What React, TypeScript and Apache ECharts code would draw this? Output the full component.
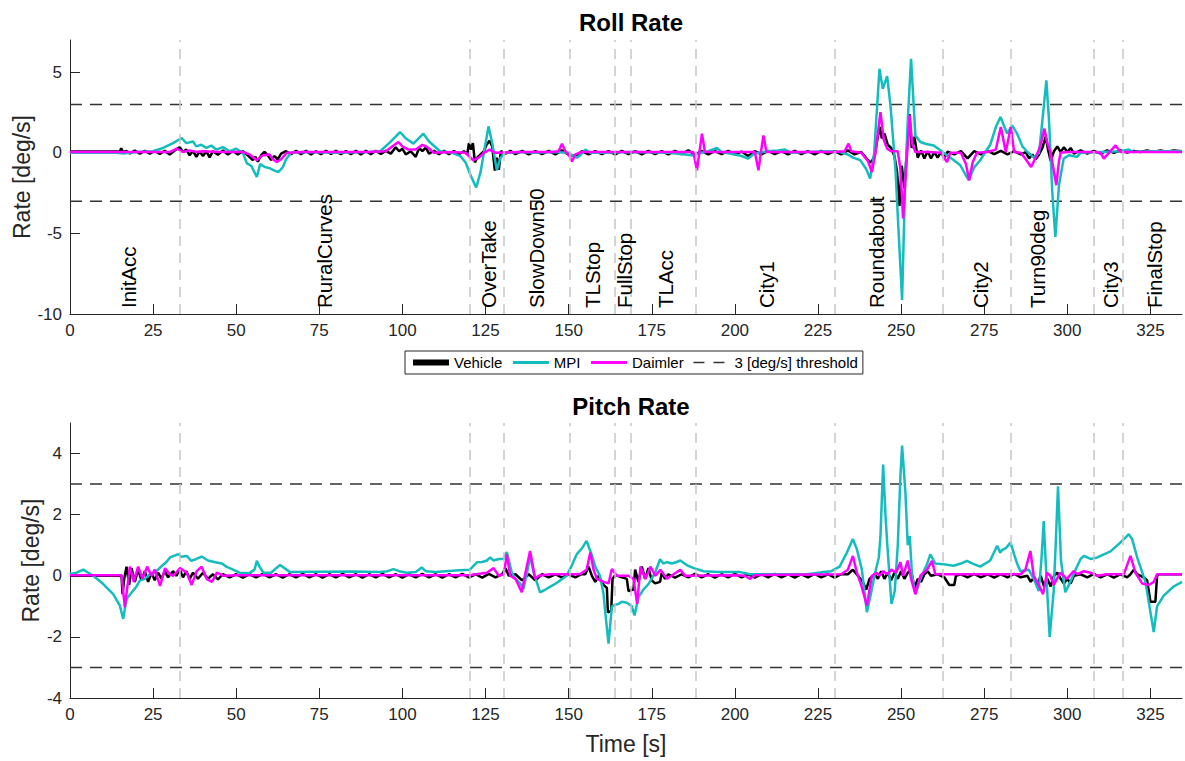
import React, { useEffect, useRef } from "react";
import * as echarts from "echarts";

const FONT = "'Liberation Sans', Arial, Helvetica, sans-serif";
const xMax = 334.5;
const xTicks = [0, 25, 50, 75, 100, 125, 150, 175, 200, 225, 250, 275, 300, 325];
const rollTicks = [-10, -5, 0, 5];
const pitchTicks = [-4, -2, 0, 2, 4];
const thresholdLevels = [3, -3];

const segmentBounds = [33.1, 120.1, 130.4, 150.3, 164, 168.7, 188.1, 230, 262.6, 283.1, 308.1, 316.8];
const segmentNames = ["InitAcc", "RuralCurves", "OverTake", "SlowDown50", "TLStop", "FullStop", "TLAcc", "City1", "Roundabout", "City2", "Turn90deg", "City3", "FinalStop"];
const segmentLabelT = [17.5, 76.7, 125.9, 140.4, 157.3, 166.8, 179, 209.6, 242.7, 273.8, 290.9, 313, 326.2];

const rollVehicle = [
  [0, 0.08], [15, 0.08], [15.4, 0.28], [16, 0.05], [17, 0.12], [18, -0.04], [19.5, 0.14], [21, -0.06], [22.5, 0.12], [24, -0.05],
  [25.5, 0.13], [27, -0.07], [28.5, 0.12], [30, -0.1], [31.5, 0.15], [33, 0.35], [34, 0.05], [35, 0.2], [36, -0.15], [37, 0.12],
  [38, -0.25], [39, 0.08], [40, -0.2], [41, 0.1], [42, -0.28], [43, 0.1], [44.5, -0.12], [46, 0.15], [47.5, -0.1], [49, 0.12],
  [50.5, -0.1], [52, 0.1], [53.5, -0.15], [55, -0.45], [55.8, -0.25], [56.5, -0.55], [57.5, -0.15], [58.5, 0.05], [59.5, -0.15], [60.5, -0.45],
  [61.5, -0.2], [62.5, -0.4], [63.5, -0.05], [65, 0.1], [66.5, -0.08], [68, 0.12], [69.5, -0.08], [71, 0.12], [72.5, -0.1], [74, 0.1],
  [75.5, -0.08], [77, 0.13], [78.5, -0.07], [80, 0.12], [81.5, -0.09], [83, 0.11], [84.5, -0.08], [86, 0.12], [87.5, -0.1], [89, 0.12],
  [90.5, -0.08], [92, 0.13], [93.5, -0.07], [95, 0.12], [96.5, -0.05], [98, 0.35], [99, 0.1], [100, 0.25], [101, -0.1], [102.5, 0.1],
  [104, -0.25], [105, 0.3], [106, 0.1], [107, 0.32], [108, -0.05], [109.5, 0.12], [111, -0.08], [112.5, 0.12], [114, -0.09], [115.5, 0.11],
  [117, -0.08], [118.5, 0.1], [119.5, -0.1], [120, 0.6], [120.6, 0.2], [121.2, 0.6], [121.8, -0.6], [122.5, -0.3], [123.5, -0.1], [124.5, 0.1],
  [125.3, 0.5], [126.2, 0.75], [127, 0.4], [127.8, -1.1], [128.4, -0.3], [129, -1.05], [129.6, 0.1], [131, -0.05], [132.5, 0.12], [134, -0.08],
  [136, 0.12], [138, -0.1], [140, 0.1], [142, -0.08], [144, 0.12], [146, -0.1], [148, 0.15], [150, -0.12], [152, -0.2], [154, 0.1],
  [156, -0.1], [158, 0.1], [160, -0.08], [162, 0.1], [164, -0.1], [166, 0.12], [168, -0.08], [170, 0.1], [172, -0.1], [174, 0.12],
  [176, -0.08], [178, 0.1], [180, -0.1], [182, 0.12], [184, -0.08], [186, 0.15], [188, -0.12], [190, 0.12], [192, -0.1], [194, 0.1],
  [196, -0.08], [198, 0.12], [200, -0.1], [202, 0.08], [204, -0.2], [206, 0.1], [208, -0.1], [210, 0.12], [212, -0.08], [214, 0.1],
  [216, -0.1], [218, 0.12], [220, -0.08], [222, 0.1], [224, -0.1], [226, 0.12], [228, -0.08], [230, 0.1], [232, -0.1], [234, 0.15],
  [236, -0.1], [238, 0.05], [239, -0.2], [240, -0.45], [241, -0.6], [242, -0.2], [243, 1.0], [243.6, 1.6], [244.2, 0.9], [245, 1.2],
  [246, 0.5], [247, 0.3], [248, -0.2], [248.8, -1.2], [249.5, -3.3], [250.2, -0.8], [251, -2.2], [251.6, -0.3], [252.5, 2.4], [253.2, 0.3],
  [254, 1.0], [255, -0.3], [256, 0.15], [257, -0.35], [258, 0.1], [259, -0.35], [260, 0.05], [261, -0.3], [262, 0.05], [263, -0.3],
  [264, 0.08], [266, -0.1], [268, 0.1], [270, -0.35], [272, 0.1], [274, -0.1], [276, 0.12], [278, -0.08], [280, 0.12], [282, -0.1],
  [284, 0.1], [286, -0.1], [287.5, 0.05], [288.5, -0.35], [289.5, -0.1], [290.5, -0.4], [291.5, -0.1], [292.5, 0.3], [293.5, 1.0], [294.2, 0.2],
  [295, -0.5], [296, 0.1], [297, 0.4], [298, 0.05], [299, 0.35], [300, 0.05], [301, 0.3], [302, -0.05], [304, 0.15], [306, -0.05],
  [308, 0.12], [310, -0.05], [312, 0.15], [314, 0.0], [316, 0.15], [318, 0.02], [320, 0.12], [322, 0.05], [324, 0.14], [326, 0.06],
  [328, 0.14], [330, 0.07], [332, 0.14], [334.5, 0.1],
];

const rollMPI = [
  [0, 0], [14, 0], [16, -0.05], [20, 0.05], [25, 0.1], [28, 0.3], [31, 0.6], [33.6, 0.92], [35, 0.6], [37, 0.7],
  [38, 0.4], [39.5, 0.5], [41, 0.3], [42.5, 0.45], [44, 0.2], [46, 0.35], [48, 0.1], [50, 0.25], [52, 0], [53.2, -0.65],
  [54.5, -0.8], [56.2, -1.5], [57.2, -0.7], [58.6, -0.88], [60, -0.95], [61.5, -1.1], [62.7, -1.19], [64, -0.9], [65, -0.4], [66.5, 0],
  [70, 0.05], [80, 0], [90, 0.05], [93.3, 0.1], [96, 0.6], [99.3, 1.29], [101, 0.9], [103.3, 0.57], [106.3, 1.19], [108, 0.7],
  [111.3, 0.1], [115, 0], [117.4, -0.2], [119, -0.6], [120.5, -1.4], [122.2, -2.15], [123.5, -1.2], [124.5, 0], [125.9, 1.64], [127, 0.6],
  [128.4, -1.08], [129.5, -0.3], [131, 0], [135, 0.05], [140, 0], [145, 0.05], [150, 0], [151, -0.15], [152.5, -0.3], [153.5, -0.15],
  [155, 0.2], [156.5, 0], [160, 0], [170, 0.05], [180, 0], [185, -0.1], [187, -0.15], [190, 0], [192, 0.1], [194.6, 0.3],
  [196, 0.05], [200, -0.1], [202, -0.2], [204, -0.35], [205.5, -0.1], [207, 0], [210, 0.1], [213, 0.15], [215, 0.2], [217, 0],
  [222, 0.05], [228, 0.1], [231.7, 0.05], [234, -0.1], [235.5, -0.3], [237.7, -0.45], [239.5, -1.0], [240.7, -1.6], [241.9, 0], [243.5, 5.21],
  [244.5, 3.97], [245.8, 4.76], [246.8, 2.94], [248.3, -1.0], [249.3, -5.1], [250.3, -9.13], [251.2, -2], [252, 2], [253, 5.83], [254.3, 1.08],
  [255.8, 0.67], [257.5, 0.55], [259.8, 0.46], [261.5, 0.2], [263.8, -0.15], [265.5, -0.4], [267.8, -0.77], [270.3, -1.7], [272, -0.9], [273.8, -0.46],
  [275.5, 0.1], [276.8, 0.5], [278.5, 1.6], [279.9, 2.22], [281.9, 1.19], [283.4, 1.7], [284.9, 1.19], [286.5, 0.4], [288, 0.05], [290, -0.3],
  [291.5, 0], [292.5, 2.0], [293.7, 4.49], [294.5, 2.0], [295.5, -2.5], [296.4, -5.21], [297.5, -2.0], [298.9, -0.36], [300.5, -0.15], [302.9, -0.25],
  [304, 0], [310, 0.05], [316, 0.1], [318.5, 0.2], [320, 0.05], [325, 0.1], [334.5, 0.1],
];

const rollDaimler = [
  [0, 0.05], [30, 0.05], [32.1, 0.26], [34, 0.05], [36, 0.15], [38, 0.05], [40, 0.1], [45, 0.05], [52, 0.05], [54, -0.1],
  [56.2, -0.46], [57, -0.3], [58, -0.15], [60, -0.1], [61, -0.4], [62.2, -0.57], [63.5, -0.4], [65.2, 0], [70, 0.05], [80, 0.05],
  [90, 0.05], [95, 0.1], [97, 0.4], [98.8, 0.67], [100, 0.4], [101.8, 0.2], [104, 0.2], [106, 0.5], [107.5, 0.35], [109.5, 0],
  [115, 0.05], [119, 0], [121.3, -0.46], [123, -0.3], [124.5, 0], [126.2, 0.2], [128, 0], [135, 0.05], [145, 0.05], [147, 0.1],
  [148, 0.57], [149, 0.1], [150, -0.1], [151, -0.53], [152, -0.1], [154, 0.05], [160, 0.05], [170, 0.05], [180, 0.05], [187.5, 0.05],
  [188.6, -1.08], [189.3, 0], [190.1, 1.19], [191, 0.05], [200, 0.05], [206, 0.05], [207.1, -1.08], [207.8, 0], [208.6, 1.08], [209.5, 0.05],
  [220, 0.05], [230, 0.05], [233, 0.1], [234.2, 0.57], [235, 0.1], [238, 0], [240, -0.5], [241.2, -1.19], [242.3, 0], [243.8, 2.53],
  [244.8, 0.8], [245.8, 0.26], [247, 0.1], [249, 0.1], [249.8, -1], [250.6, -4.07], [251.5, -1], [252.6, 2.32], [253.3, 0.6], [254.3, 0.05],
  [258, 0.05], [262, 0], [263.8, -0.57], [264.8, 0], [268, 0], [269.5, -0.7], [270.5, -1.7], [271.5, -0.6], [272.8, 0], [276, 0.05],
  [278.5, 0.2], [280, 1.6], [281.5, 0.05], [283, 1.6], [284, 0.05], [286, 0], [287.5, -0.4], [289.1, -0.88], [290.5, -0.3], [292, 0.5],
  [293.1, 1.5], [294, 0.6], [295, 0], [296, -1.2], [296.7, -2.01], [297.5, -0.5], [298, 0], [300, 0.05], [308, 0.05], [310, 0],
  [311, -0.36], [312.5, 0], [314.5, 0.46], [316, 0.05], [320, 0.05], [334.5, 0.05],
];

const pitchVehicle = [
  [0, 0], [15.5, 0], [15.8, -0.6], [16.3, -0.1], [17, 0.3], [17.8, -0.3], [18.5, 0.25], [19.5, -0.2], [20.5, 0.2], [21.5, -0.15],
  [22.5, 0.15], [23.5, -0.2], [24.5, 0.1], [25.5, -0.15], [26.5, 0.1], [27.5, -0.1], [28.5, 0.15], [29.5, -0.05], [31, 0.15], [32, 0],
  [33, 0.2], [34, -0.05], [35, 0.15], [36, -0.1], [37, 0.1], [38.5, -0.1], [40, 0.1], [41.5, -0.1], [43, 0.05], [44.5, -0.12],
  [46, 0.05], [48, -0.05], [50, 0.05], [52, -0.06], [54, 0.05], [56, -0.05], [58, 0.06], [60, -0.05], [62, 0.05], [64, -0.06],
  [66, 0.05], [68, -0.05], [70, 0.06], [72, -0.05], [74, 0.05], [76, -0.06], [78, 0.05], [80, -0.05], [82, 0.06], [84, -0.05],
  [86, 0.05], [88, -0.06], [90, 0.05], [92, -0.05], [94, 0.06], [96, -0.05], [98, 0.05], [100, -0.06], [102, 0.05], [104, -0.05],
  [106, 0.06], [108, -0.05], [110, 0.05], [112, -0.06], [114, 0.05], [116, -0.05], [118, 0.06], [120, -0.05], [122, 0.05], [124, -0.06],
  [126, 0.06], [128, -0.05], [130, 0.05], [131, 0.25], [132, 0], [134, 0.05], [136, -0.15], [138, 0.05], [140, -0.15], [142, 0.05],
  [144, -0.05], [146, 0.05], [148, -0.06], [150, 0.05], [152, -0.05], [154, 0.06], [155, 0.05], [156, 0.3], [157, 0], [158, -0.2],
  [159, 0], [160.5, -0.3], [161.5, -0.4], [161.8, -1.2], [162.8, -1.15], [163.2, -0.1], [164, 0.02], [166, -0.05], [167.5, -0.1], [168, -0.5],
  [169.5, -0.45], [170, 0.2], [171, -0.2], [172, 0.3], [173, -0.1], [174, 0.25], [175, -0.15], [176, -0.25], [177.5, -0.2], [178, 0.1],
  [179, -0.1], [180, 0.05], [182, -0.06], [184, 0.05], [186, -0.05], [188, 0.06], [190, -0.05], [192, 0.05], [194, -0.06], [196, 0.05],
  [198, -0.05], [200, 0.06], [202, -0.05], [204, 0.05], [206, -0.06], [208, 0.05], [210, -0.05], [212, 0.06], [214, -0.05], [216, 0.05],
  [218, -0.06], [220, 0.05], [222, -0.05], [224, 0.06], [226, -0.05], [228, 0.05], [230, -0.06], [232, 0.05], [234, 0.05], [235.5, 0.2],
  [237, 0], [238.5, -0.2], [239.5, -0.45], [240.5, -0.1], [242, 0.05], [243, -0.1], [244, 0.15], [245, -0.1], [246, 0.1], [247, -0.15],
  [248, 0.1], [249, -0.1], [250, 0.15], [251, -0.1], [252, 0.1], [253, 0.2], [254, -0.4], [255, -0.1], [256, -0.2], [257, 0.05],
  [258, 0.15], [259, 0], [261, 0.05], [263, -0.05], [264.5, -0.3], [266, -0.3], [266.5, 0], [268, 0.05], [270, -0.05], [272, 0.06],
  [274, -0.05], [276, 0.05], [278, -0.06], [280, 0.05], [282, -0.05], [284, 0.06], [286, -0.05], [288, 0], [289, -0.2], [290, -0.05],
  [291, -0.3], [292, 0], [293, -0.35], [294, -0.1], [295, -0.35], [296, 0], [297, 0.1], [298, -0.1], [299, -0.25], [300, -0.1],
  [301, -0.25], [302, 0], [304, 0.05], [306, -0.05], [308, 0.06], [310, -0.05], [312, 0.05], [314, -0.06], [316, 0.05], [318, -0.05],
  [319, 0.05], [320, 0.2], [321, 0.05], [323, -0.05], [324, -0.15], [325, -0.85], [326.5, -0.85], [327, 0], [327.5, 0.05], [334.5, 0.05],
];

const pitchMPI = [
  [0, 0.05], [2, 0.1], [4, 0.2], [5.5, 0.1], [7, 0], [10, -0.27], [13, -0.6], [15, -0.98], [16, -1.41], [17, -0.76],
  [18.6, -0.54], [20, -0.35], [21, -0.16], [22.5, -0.1], [24, 0.05], [25.5, 0.1], [27.1, 0.27], [29, 0.45], [30.1, 0.6], [32.6, 0.71],
  [33.5, 0.62], [35.1, 0.65], [36.5, 0.49], [38, 0.55], [39.6, 0.63], [41.5, 0.5], [43.7, 0.44], [45.7, 0.4], [47, 0.3], [48.7, 0.22],
  [51, 0.1], [53.8, 0.08], [55.5, 0.2], [56.2, 0.49], [57, 0.3], [58.2, 0.1], [60.5, 0.1], [62, 0.25], [63.2, 0.35], [64.5, 0.25],
  [66.2, 0.12], [75, 0.13], [85, 0.14], [93.3, 0.12], [95.5, 0.15], [97.3, 0.22], [99, 0.15], [101.3, 0.1], [104, 0.12], [105.8, 0.27],
  [107, 0.15], [110, 0.12], [113, 0.15], [117, 0.18], [120.3, 0.2], [122.4, 0.44], [124, 0.45], [125.4, 0.5], [126.4, 0.6], [127.4, 0.5],
  [129, 0.55], [130.4, 0.55], [131.4, 0.78], [132.9, 0.1], [134, -0.1], [135.4, -0.25], [136.4, -0.43], [137.5, 0.1], [138.4, 0.65], [139.5, 0.1],
  [141.4, -0.54], [143, -0.45], [145.4, -0.3], [147.5, -0.15], [149.4, 0], [151, 0.35], [152.4, 0.7], [154, 0.9], [155.4, 1.14], [156.2, 0.9],
  [156.9, 0.7], [158, 0.3], [159.4, 0], [160.5, -0.6], [161, -1.19], [162, -2.22], [163, -1.0], [164, -0.95], [165, -0.92], [166, -0.85],
  [167.5, -0.88], [169, -1.0], [169.8, -1.3], [171, -0.7], [172.5, -0.45], [174, -0.27], [176, 0.1], [177.5, 0.54], [178.5, 0.4], [179.5, 0.45],
  [181, 0.4], [182.5, 0.45], [183.6, 0.5], [185.5, 0.35], [187.6, 0.25], [190.6, 0.15], [195, 0.12], [201.6, 0.12], [204.6, 0.05], [210, 0.05],
  [215, 0.05], [221.6, 0.05], [224, 0.08], [226.7, 0.12], [229, 0.15], [231.5, 0.3], [233.7, 0.76], [235.5, 1.2], [236.7, 0.87], [238.2, 0.2],
  [239.7, -1.19], [240.7, -0.7], [242.2, 0.1], [243.3, 0.6], [243.8, 1.3], [244.6, 3.64], [245.3, 2.0], [245.8, 1.1], [246.5, 0], [247.1, -0.92],
  [248.1, -0.5], [249, 1.0], [249.8, 3.26], [250.3, 4.26], [250.8, 3.5], [251.3, 2.72], [252, 1.0], [252.6, 1.3], [253.3, 0], [254.3, -0.6],
  [255.8, -0.1], [257.8, 0.38], [258.8, 0.7], [260.3, 0.4], [262.8, 0.38], [265.8, 0.33], [268, 0.4], [269.8, 0.49], [271.5, 0.4], [273.8, 0.3],
  [276.8, 0.5], [278.9, 0.98], [279.8, 0.75], [280.4, 0.85], [281.5, 0.9], [282.9, 1.09], [284, 0.7], [284.9, 0.4], [285.9, 0.15], [288.4, 0.2],
  [289.9, -0.1], [291.4, -0.5], [292.2, 0.5], [292.9, 1.79], [293.7, 0], [294.7, -2.0], [295.9, -0.5], [296.5, 1.0], [297.2, 2.93], [298.1, 0.5],
  [299.4, -0.54], [300.9, -0.2], [302.9, 0.3], [304, 0.55], [305, 0.65], [307, 0.55], [309, 0.6], [311, 0.7], [313, 0.8], [316, 1.09],
  [317.5, 1.25], [318.5, 1.36], [319.5, 1.2], [321, 0.6], [323.5, -0.2], [325, -1.19], [326, -1.84], [327, -1.0], [329, -0.65], [332, -0.35],
  [334.5, -0.2],
];

const pitchDaimler = [
  [0, 0.02], [15.5, 0.02], [16.5, -1.03], [18, 0.3], [19.2, -0.2], [20.5, 0.3], [21.8, -0.1], [23.2, 0.3], [24.5, 0], [25.5, 0.2],
  [27.1, -0.33], [28.6, 0.25], [30, 0.05], [31.1, 0], [33.1, 0.25], [35.1, 0.1], [36.6, -0.3], [38.1, 0.15], [39.6, 0.3], [41.1, -0.1],
  [42.7, -0.2], [44.2, 0.1], [46.2, 0], [50, 0.02], [120, 0.02], [125.4, 0.1], [127.4, 0.25], [129, 0], [130.5, 0.05], [131.4, 0.7],
  [132.4, 0], [134, -0.1], [135.9, -0.54], [137, 0.1], [138.4, 0.81], [139.9, -0.1], [141, 0], [144.4, 0.05], [153.4, 0.05], [155.4, 0.2],
  [156.5, 0.76], [157.5, 0.2], [158.5, -0.1], [160.5, -0.2], [162, -0.25], [163, 0.22], [164.5, 0], [168, 0], [169.5, -0.1], [170.6, -0.92],
  [171.6, 0.3], [173.1, -0.1], [174.6, 0.3], [176.1, 0], [177.6, 0.2], [179.6, -0.1], [181.6, 0.05], [183.6, 0.2], [185, 0], [200, 0.02],
  [203, 0], [204.6, -0.1], [206, 0.02], [232, 0.05], [234, 0.2], [235.5, 0.65], [236.7, 0.1], [238, -0.3], [239.7, -0.98], [241.2, 0],
  [242.7, 0.1], [243.5, 0], [244.7, 0.15], [245.8, 0.05], [247.1, 0.2], [248.5, 0.1], [249.8, 0.44], [250.6, 0], [252, 0.5], [253, -0.1],
  [254.3, -0.6], [255.8, 0], [257.8, 0.2], [259.3, 0.49], [260.3, 0.05], [286, 0.05], [287.4, 0.2], [288.9, 0.81], [289.9, 0], [291.4, -0.3],
  [292.7, -0.6], [293.9, 0.1], [294.9, 0], [295.9, -0.3], [297.9, 0.1], [299.9, -0.1], [301.9, 0.15], [303, 0.05], [305, 0.15], [307, 0.1],
  [309, 0], [312, 0.05], [317, 0.05], [319, 0.65], [320.5, 0.1], [322.5, -0.25], [324.5, -0.3], [326, -0.2], [327, 0.05], [334.5, 0.05],
];

const C_VEH = "#000000";
const C_MPI = "#14BCBE";
const C_DAI = "#FF00FF";
const AXIS_C = "#262626";

function xAxisCfg(gridIndex: number, withName: boolean) {
  return {
    type: "value",
    gridIndex,
    min: 0,
    max: xMax,
    axisLine: { show: true, onZero: false, lineStyle: { color: AXIS_C, width: 1 } },
    axisTick: { show: true, inside: true, length: 10, customValues: xTicks, lineStyle: { color: AXIS_C } },
    axisLabel: { customValues: xTicks, fontSize: 17, color: AXIS_C, margin: 8, fontFamily: FONT },
    splitLine: { show: false },
    name: withName ? "Time [s]" : "",
    nameLocation: "middle",
    nameGap: 34,
    nameMoveOverlap: false,
    nameTextStyle: { fontSize: 23, color: AXIS_C, fontFamily: FONT },
  };
}

function yAxisCfg(gridIndex: number, min: number, max: number, ticks: number[], gap: number) {
  return {
    type: "value",
    gridIndex,
    min,
    max,
    axisLine: { show: true, onZero: false, lineStyle: { color: AXIS_C, width: 1 } },
    axisTick: { show: true, inside: true, length: 10, customValues: ticks, lineStyle: { color: AXIS_C } },
    axisLabel: { customValues: ticks, fontSize: 17, color: AXIS_C, margin: 8, fontFamily: FONT },
    splitLine: { show: false },
    name: "Rate [deg/s]",
    nameLocation: "middle",
    nameGap: gap,
    nameMoveOverlap: false,
    nameTextStyle: { fontSize: 23, color: AXIS_C, fontFamily: FONT },
  };
}

function lineSeries(name: string, data: number[][], idx: number, color: string, width: number, z: number) {
  return {
    type: "line",
    name,
    xAxisIndex: idx,
    yAxisIndex: idx,
    data,
    symbol: "none",
    z,
    lineStyle: { color, width },
    itemStyle: { color },
  };
}

function thresholdSeries(idx: number) {
  return thresholdLevels.map((lvl) => ({
    type: "line",
    name: "3 [deg/s] threshold",
    xAxisIndex: idx,
    yAxisIndex: idx,
    data: [[0, lvl], [xMax, lvl]],
    symbol: "none",
    z: 1,
    silent: true,
    lineStyle: { color: "#333333", width: 1.5, type: [12, 8] },
    itemStyle: { color: "#333333" },
  }));
}

function boundsSeries(idx: number) {
  return {
    type: "line",
    xAxisIndex: idx,
    yAxisIndex: idx,
    data: [],
    z: 0,
    markLine: {
      silent: true,
      symbol: "none",
      animation: false,
      label: { show: false },
      lineStyle: { color: "#c6c6c6", width: 1.5, type: [10, 7] },
      data: segmentBounds.map((b) => ({ xAxis: b })),
    },
  };
}

export default function App() {
  const ref = useRef<HTMLDivElement>(null);
  useEffect(() => {
    if (!ref.current) return;
    const chart = echarts.init(ref.current, undefined, { renderer: "svg" });
    const hidden = { opacity: 0 };
    const option: any = {
      animation: false,
      backgroundColor: "#ffffff",
      textStyle: { fontFamily: FONT },
      title: [
        { text: "Roll Rate", left: 626, top: 5, textAlign: "center", textStyle: { fontSize: 24, fontWeight: "bold", color: "#000", fontFamily: FONT } },
        { text: "Pitch Rate", left: 626, top: 389, textAlign: "center", textStyle: { fontSize: 24, fontWeight: "bold", color: "#000", fontFamily: FONT } },
      ],
      legend: {
        left: 405,
        top: 351,
        orient: "horizontal",
        padding: [4, 5, 4, 5],
        itemGap: 9,
        itemWidth: 36,
        itemHeight: 14,
        backgroundColor: "#ffffff",
        borderColor: AXIS_C,
        borderWidth: 1,
        borderRadius: 0,
        selectedMode: false,
        itemStyle: hidden,
        textStyle: { fontSize: 15, color: "#000", fontFamily: FONT },
        data: [
          { name: "Vehicle", itemStyle: hidden, lineStyle: { width: 6, color: C_VEH } },
          { name: "MPI", itemStyle: hidden, lineStyle: { width: 3, color: C_MPI } },
          { name: "Daimler", itemStyle: hidden, lineStyle: { width: 3, color: C_DAI } },
          { name: "3 [deg/s] threshold", itemStyle: hidden, lineStyle: { width: 1.5, color: "#333333", type: [11, 9] } },
        ],
      },
      grid: [
        { left: 70, top: 40, width: 1112, height: 274, containLabel: false },
        { left: 70, top: 423, width: 1112, height: 275, containLabel: false },
      ],
      xAxis: [xAxisCfg(0, false), xAxisCfg(1, true)],
      yAxis: [yAxisCfg(0, -10, 7, rollTicks, 37), yAxisCfg(1, -4, 5, pitchTicks, 28)],
      series: [
        boundsSeries(0),
        boundsSeries(1),
        ...thresholdSeries(0),
        ...thresholdSeries(1),
        lineSeries("Vehicle", rollVehicle, 0, C_VEH, 2.5, 2),
        lineSeries("MPI", rollMPI, 0, C_MPI, 2.5, 3),
        lineSeries("Daimler", rollDaimler, 0, C_DAI, 2.5, 4),
        lineSeries("Vehicle", pitchVehicle, 1, C_VEH, 2.5, 2),
        lineSeries("MPI", pitchMPI, 1, C_MPI, 2.5, 3),
        lineSeries("Daimler", pitchDaimler, 1, C_DAI, 2.5, 4),
        {
          type: "custom",
          xAxisIndex: 0,
          yAxisIndex: 0,
          z: 5,
          silent: true,
          data: segmentLabelT.map((t, i) => [t, -10, i]),
          encode: { x: 0, y: 1 },
          renderItem: (params: any, api: any) => {
            const p = api.coord([api.value(0), api.value(1)]);
            return {
              type: "text",
              x: p[0],
              y: p[1] - 6,
              rotation: Math.PI / 2,
              style: {
                text: segmentNames[api.value(2)],
                fontSize: 20.5,
                fontFamily: FONT,
                fill: "#000",
                align: "left",
                verticalAlign: "middle",
              },
            };
          },
        },
      ],
    };
    chart.setOption(option);
    return () => chart.dispose();
  }, []);
  return (
    <div
      ref={ref}
      style={{ position: "fixed", left: 0, top: 0, width: 1185, height: 761, background: "#fff" }}
    />
  );
}
